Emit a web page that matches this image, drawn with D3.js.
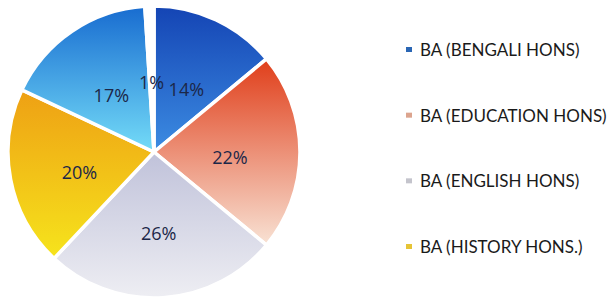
<!DOCTYPE html>
<html><head><meta charset="utf-8">
<script src="https://cdn.jsdelivr.net/npm/d3@7"></script>
<style>html,body{margin:0;padding:0;background:#fff;}svg{display:block;}</style>
</head><body>
<svg id="chart" width="613" height="305"></svg>
<script>
const categories = ["BA (BENGALI HONS)", "BA (EDUCATION HONS)", "BA (ENGLISH HONS)", "BA (HISTORY HONS.)", "Other A", "Other B"];
const values = [14, 22, 26, 20, 17, 1];
const legendCategories = ["BA (BENGALI HONS)", "BA (EDUCATION HONS)", "BA (ENGLISH HONS)", "BA (HISTORY HONS.)"];
const gradTop = ["#1444b4", "#e03e1a", "#c0c2da", "#eea014", "#186cd0", "#ffffff"];
const gradBottom = ["#3c8ce2", "#f8e2d4", "#eeeef3", "#f6e41c", "#74dcf8", "#ffffff"];
const legendColors = ["#2a66b4", "#dca48e", "#c4c4cc", "#e6c436"];

const svg = d3.select("#chart");
const cx = 154, cy = 152, r = 146;
const defs = svg.append("defs");
categories.forEach((c, i) => {
  const g = defs.append("linearGradient").attr("id", "g" + i)
    .attr("x1", 0).attr("y1", 0).attr("x2", 0).attr("y2", 1);
  g.append("stop").attr("offset", "0%").attr("stop-color", gradTop[i]);
  g.append("stop").attr("offset", "100%").attr("stop-color", gradBottom[i]);
});

const pie = d3.pie().sort(null).value(d => d)(values);
const arc = d3.arc().innerRadius(0).outerRadius(r);
const labelArc = d3.arc().innerRadius(0).outerRadius(r * 1.04);
const gp = svg.append("g").attr("transform", `translate(${cx},${cy})`);
gp.selectAll("path").data(pie).join("path")
  .attr("d", arc)
  .attr("fill", (d, i) => `url(#g${i})`)
  .attr("stroke", "#ffffff").attr("stroke-width", 3.5).attr("stroke-linejoin", "round");

gp.selectAll("text").data(pie).join("text")
  .attr("transform", d => { const c = labelArc.centroid(d); return `translate(${c[0]},${c[1] + 6})`; })
  .attr("text-anchor", "middle").attr("dy", "0.36em")
  .attr("font-family", "'Open Sans', Lato, sans-serif").attr("font-size", 18)
  .attr("fill", "#1c2748")
  .text(d => d.data + "%");

const leg = svg.append("g");
const legendY = d3.scalePoint().domain(legendCategories).range([50, 247]);
legendCategories.forEach((c, i) => {
  const y = legendY(c);
  leg.append("rect").attr("x", 406).attr("y", y - 3).attr("width", 6).attr("height", 5)
    .attr("fill", legendColors[i]);
  leg.append("text").attr("x", 420).attr("y", y).attr("dy", "0.36em")
    .attr("font-family", "Lato, 'Open Sans', sans-serif").attr("font-size", 17)
    .attr("fill", "#1a1a1a").text(c);
});
</script>
</body></html>
